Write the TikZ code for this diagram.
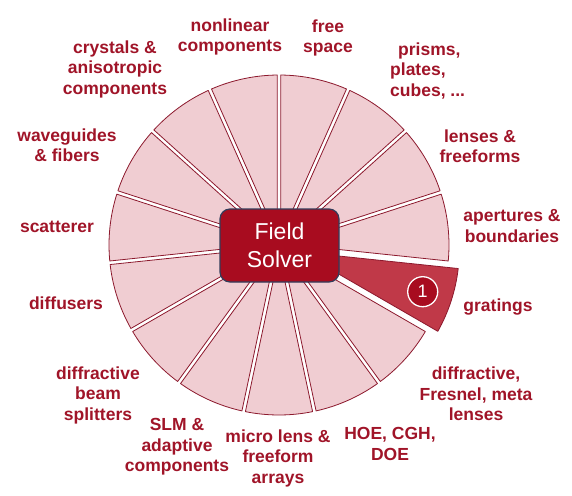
\documentclass[tikz,border=0pt]{standalone}
\usepackage{fontspec}
\setmainfont{Liberation Sans}
\usetikzlibrary{calc}
\definecolor{wedgefill}{RGB}{240,205,210}
\definecolor{wedgeline}{RGB}{140,25,45}
\definecolor{txtred}{RGB}{160,20,40}
\definecolor{boxred}{RGB}{168,12,31}
\definecolor{boxline}{RGB}{50,60,90}
\definecolor{gratfill}{RGB}{192,57,72}
\tikzset{
  wedge/.style={fill=wedgefill, draw=wedgeline, line width=0.8pt, line join=round},
  gratwedge/.style={fill=gratfill, draw=wedgeline, line width=0.8pt, line join=round},
  lab/.style={text=txtred, font=\bfseries\fontsize{17.5}{20.5}\selectfont, align=center, inner sep=0pt},
  solverbox/.style={draw=boxline, fill=boxred, rounded corners=10pt, minimum width=119pt, minimum height=73pt, line width=1.2pt, text=white, font=\fontsize{23}{28}\selectfont, align=center},
  numdot/.style={circle, fill=boxred, draw=white, line width=1.3pt, minimum size=30pt, inner sep=0pt, text=white, font=\fontsize{18}{18}\selectfont}
}
\begin{document}
\begin{tikzpicture}[x=1pt,y=1pt]
\path[use as bounding box] (0,0) rectangle (572,-495);
\coordinate (C) at (279,-245);
% wedges
\foreach \k in {0,1,2,3,5,6,7,8,9,10,11,12,13,14}{
  \pgfmathsetmacro{\aB}{90-24*\k-0.6}
  \pgfmathsetmacro{\aA}{66-24*\k+0.6}
  \pgfmathsetmacro{\mid}{78-24*\k}
  \draw[wedge] ($(C)+(\mid:8.6)$) -- ($(C)+(\aA:170)$) arc[start angle=\aA, end angle=\aB, radius=170] -- cycle;
}
% exploded gratings wedge
\coordinate (G) at ($(C)+(-18:14)$);
\draw[gratwedge] ($(G)+(-18:8.6)$) -- ($(G)+(-29.4:167)$) arc[start angle=-29.4, end angle=-6.6, radius=167] -- cycle;
\node[solverbox] (solver) at (279.5,-245.5) {Field\\Solver};
\node[numdot] (one) at (422.7,-291.7) {1};
% labels
\node[lab] (nl) at (230,-37) {nonlinear\\components};
\node[lab] (cr) at (115,-69) {crystals \&\\anisotropic\\components};
\node[lab] (wg) at (67,-145) {waveguides\\\& fibers};
\node[lab] (sc) at (57,-227) {scatterer};
\node[lab] (df) at (66,-303) {diffusers};
\node[lab] (dbs) at (98,-395) {diffractive\\beam\\splitters};
\node[lab] (slm) at (177,-447) {SLM \&\\adaptive\\components};
\node[lab] (ml) at (278,-458) {micro lens \&\\freeform\\arrays};
\node[lab] (hoe) at (390,-444) {HOE, CGH,\\DOE};
\node[lab] (dfl) at (476,-394) {diffractive,\\Fresnel, meta\\lenses};
\node[lab] (gr) at (498,-307) {gratings};
\node[lab] (ap) at (512,-226) {apertures \&\\boundaries};
\node[lab] (le) at (480,-146) {lenses \&\\freeforms};
\node[lab, align=left, anchor=west] (pr) at (390,-71) {\hspace{8pt}prisms,\\plates,\\cubes, ...};
\node[lab] (fs) at (328,-38) {free\\space};
\end{tikzpicture}
\end{document}
